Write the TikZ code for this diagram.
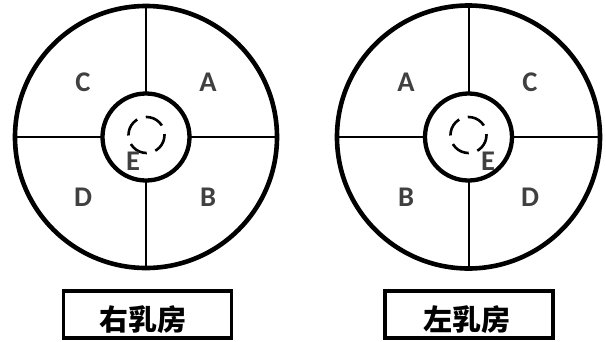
\documentclass[tikz,border=0pt]{standalone}
\usepackage{fontspec}
\setmainfont{Carlito}
\newfontfamily\cjk{Noto Sans CJK SC}
\definecolor{lbl}{HTML}{404040}
\begin{document}
\begin{tikzpicture}[x=1pt,y=-1pt,
  outer/.style={line width=4.6pt},
  inner/.style={line width=4.3pt, fill=white},
  divider/.style={line width=2pt},
  nipple/.style={line width=2.6pt, dash pattern=on 19pt off 9pt},
  quad/.style={font=\fontsize{28.5}{28.5}\selectfont\bfseries, text=lbl, inner sep=0pt},
  side/.style={draw, line width=3.8pt, minimum width=168pt, minimum height=47pt, inner sep=0pt,
    font=\cjk\fontsize{28}{28}\selectfont\bfseries}]
\useasboundingbox (0,0) rectangle (606,341);
% left breast
\coordinate (L) at (146,137);
\draw[divider] (146,7) -- (146,267);
\draw[divider] (15,137) -- (277,137);
\draw[outer] (L) circle[radius=131];
\draw[inner] (L) circle[radius=43.5];
\draw[nipple] (146.5,135) circle[radius=18];
\node[quad] (LC) at (83,82) {C};
\node[quad] (LA) at (208,82) {A};
\node[quad] (LD) at (83,197) {D};
\node[quad] (LB) at (208,197) {B};
\node[quad] (LE) at (133,161) {E};
% right breast
\coordinate (R) at (468.5,137);
\draw[divider] (468.5,7) -- (468.5,267);
\draw[divider] (337,137) -- (600,137);
\draw[outer] (R) circle[radius=131.5];
\draw[inner] (R) circle[radius=43.5];
\draw[nipple] (468.5,135) circle[radius=18];
\node[quad] (RA) at (406,82) {A};
\node[quad] (RC) at (530,82) {C};
\node[quad] (RB) at (406,197) {B};
\node[quad] (RD) at (530,197) {D};
\node[quad] (RE) at (488,161) {E};
% labels
\node[side] (boxL) at (147.5,314.5) {};
\node[inner sep=0pt, font=\cjk\fontsize{29}{29}\selectfont\bfseries] (txtL) at (143,320) {右乳房};
\node[side] (boxR) at (469,314.5) {};
\node[inner sep=0pt, font=\cjk\fontsize{29}{29}\selectfont\bfseries] (txtR) at (467,320) {左乳房};
\end{tikzpicture}
\end{document}
